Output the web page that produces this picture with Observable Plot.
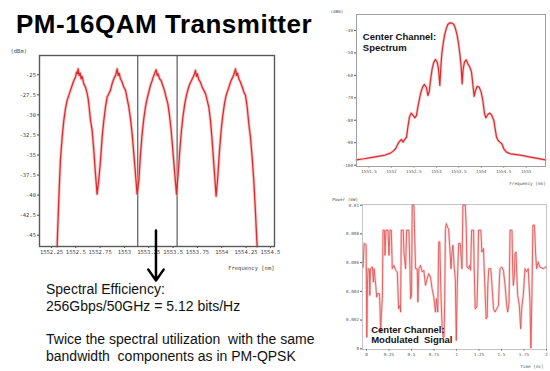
<!DOCTYPE html>
<html><head><meta charset="utf-8">
<script src="https://cdn.jsdelivr.net/npm/d3@7"></script>
<script src="https://cdn.jsdelivr.net/npm/@observablehq/plot@0.6"></script>
<style>
html,body{margin:0;padding:0;background:#fff;}
#page{position:relative;width:550px;height:371px;overflow:hidden;background:#fff;font-family:"Liberation Sans",Arial,sans-serif;}
#title{position:absolute;left:16px;top:11px;font-size:26px;font-weight:bold;letter-spacing:0.5px;line-height:26px;white-space:nowrap;color:#000;}
#notes{position:absolute;left:46px;top:281px;font-size:14px;line-height:16.8px;white-space:pre;color:#111;}
.chart{position:absolute;}
.chart svg text{white-space:pre;}
</style></head>
<body><div id="page">
<div id="title"></div>
<div class="chart" id="left" style="left:0;top:40px"></div>
<div class="chart" id="spec" style="left:330px;top:0"></div>
<div class="chart" id="sig" style="left:330px;top:185px"></div>
<div id="notes"></div>
</div>
<script>
// ---------- text ----------
const titleText = "PM-16QAM Transmitter";
const noteLines = ["Spectral Efficiency:", "256Gbps/50GHz = 5.12 bits/Hz", "", "Twice the spectral utilization  with the same", "bandwidth  components as in PM-QPSK"];

// ---------- left chart: 5-channel spectrum ----------
const leftWavelength = [1552.308,1552.315,1552.329,1552.342,1552.360,1552.377,1552.394,1552.411,1552.428,1552.445,1552.462,1552.480,1552.497,1552.507,1552.517,1552.524,1552.534,1552.545,1552.555,1552.565,1552.582,1552.599,1552.617,1552.627,1552.637,1552.651,1552.668,1552.685,1552.702,1552.719,
1552.736,1552.754,1552.771,1552.788,1552.805,1552.822,1552.839,1552.856,1552.873,1552.891,1552.908,1552.918,1552.925,1552.935,1552.945,1552.959,1552.976,1552.993,1553.011,1553.028,1553.045,1553.062,1553.079,1553.096,1553.113,1553.130,
1553.148,1553.165,1553.182,1553.199,1553.216,1553.233,1553.250,1553.267,1553.285,1553.302,1553.315,1553.326,1553.336,1553.346,1553.360,1553.377,1553.394,1553.411,1553.428,1553.446,1553.463,1553.480,1553.497,1553.514,1553.535,
1553.552,1553.569,1553.586,1553.603,1553.620,1553.637,1553.655,1553.672,1553.689,1553.706,1553.720,1553.730,1553.740,1553.750,1553.764,1553.781,1553.798,1553.816,1553.833,1553.850,1553.867,1553.884,1553.901,1553.918,1553.942,
1553.959,1553.977,1553.994,1554.011,1554.028,1554.045,1554.062,1554.079,1554.096,1554.114,1554.127,1554.141,1554.151,1554.162,1554.175,1554.192,1554.210,1554.227,1554.244,1554.261,1554.278,1554.295,1554.312,1554.329,1554.347,1554.360,1554.364];
const leftPower = [-46.4,-43.95,-39.39,-35.66,-32.76,-30.68,-29.23,-28.2,-27.57,-26.95,-26.33,-25.71,-25.29,-24.67,-24.88,-24.26,-25.08,-24.8,-25.5,-25.2,-26.12,-26.53,-27.36,-27.98,-29.02,-30.68,-31.92,-34.41,-37.31,-39.88,
-38.14,-35.66,-32.76,-30.68,-29.02,-27.78,-27.36,-26.95,-26.12,-25.5,-25.08,-24.67,-24.26,-25.08,-24.8,-25.5,-25.91,-26.53,-26.95,-27.98,-29.02,-30.47,-32.34,-34.83,-37.31,-39.88,
-38.14,-34.83,-32.34,-30.47,-29.02,-27.98,-27.15,-26.33,-25.71,-25.08,-24.67,-24.38,-25.08,-24.88,-25.5,-25.71,-26.33,-26.95,-27.78,-28.6,-30.05,-31.92,-34.41,-36.9,-39.88,
-37.31,-34.41,-31.92,-30.05,-28.6,-27.57,-26.74,-26.12,-25.71,-25.29,-24.88,-24.46,-25.2,-24.88,-25.62,-25.91,-26.53,-26.95,-27.36,-28.2,-29.02,-30.68,-33.17,-36.07,-40.13,
-37.73,-34.41,-31.92,-30.05,-28.6,-27.57,-26.95,-26.33,-25.71,-25.29,-24.88,-24.26,-25.08,-24.8,-25.5,-25.91,-26.53,-27.15,-27.57,-29.02,-31.1,-32.76,-35.24,-38.14,-42.29,-45.6,-46.4];
const leftDividers = [1553.137, 1553.541];
const leftXTicks = [1552.25,1552.5,1552.75,1553,1553.25,1553.5,1553.75,1554,1554.25,1554.5];
const leftYTicks = [-25,-27.5,-30,-32.5,-35,-37.5,-40,-42.5,-45];
const arrowWavelength = [1553.324];
const arrowPowerStart = [-44.41];
const arrowPowerEnd = [-50.64];
const leftYLabel = "(dBm)";
const leftXLabel = "Frequency [nm]";

// ---------- right top: center channel spectrum ----------
const specWavelength = [1551.222,1551.385,1551.608,1551.831,1551.979,1552.039,1552.091,1552.128,1552.165,1552.202,1552.224,1552.261,1552.291,1552.336,1552.365,1552.402,1552.439,1552.484,1552.521,1552.558,1552.588,1552.618,1552.647,1552.692,1552.736,1552.781,1552.811,1552.840,1552.870,1552.907,1552.944,1552.981,1553.018,1553.048,1553.078,1553.100,1553.122,1553.152,1553.182,1553.219,1553.256,1553.301,1553.345,1553.390,1553.427,1553.464,1553.494,1553.523,1553.553,1553.575,1553.598,1553.627,1553.664,1553.701,1553.746,1553.783,1553.820,1553.842,1553.872,1553.909,1553.954,1553.998,1554.035,1554.073,1554.102,1554.147,1554.191,1554.236,1554.280,1554.310,1554.340,1554.377,1554.414,1554.459,1554.503,1554.563,1554.652,1554.874,1555.097,1555.431];
const specPower = [-97.61,-97.16,-96.42,-95.68,-94.64,-93.75,-92.71,-91.22,-89.74,-89.0,-88.55,-89.74,-88.7,-87.51,-83.06,-78.6,-76.82,-77.86,-78.9,-77.86,-74.15,-71.18,-68.21,-65.24,-64.05,-65.54,-68.95,-67.47,-62.27,-57.07,-54.11,-52.92,-54.11,-57.07,-64.5,-56.33,-50.39,-45.94,-42.23,-39.26,-37.33,-36.59,-36.73,-37.33,-39.26,-42.23,-45.94,-50.39,-56.33,-63.76,-57.07,-54.11,-53.07,-54.85,-56.33,-58.56,-65.24,-69.4,-66.73,-64.94,-65.24,-67.47,-71.18,-77.12,-78.9,-77.42,-76.82,-77.86,-80.09,-83.8,-87.51,-89.0,-89.74,-90.48,-92.71,-94.19,-94.94,-95.53,-96.42,-97.61];
const specXTicks = [1551.5,1552,1552.5,1553,1553.5,1554,1554.5,1555];
const specYTicks = [-40,-50,-60,-70,-80,-90,-100];
const specYLabel = "(dBm)";
const specXLabel = "Frequency [nm]";
const specNote = "Center Channel:\nSpectrum";

// ---------- right bottom: modulated signal ----------
const sigTime = [-0.037,-0.026,-0.004,0.004,0.011,0.018,0.033,0.037,0.044,0.066,0.077,0.085,0.103,0.114,0.122,0.144,0.151,0.158,0.166,0.177,0.184,0.199,0.206,0.217,0.239,0.250,0.262,0.276,0.287,0.306,0.324,0.343,0.357,0.372,0.379,0.387,0.409,0.416,0.435,0.446,0.471,0.483,0.490,0.501,0.508,0.527,0.534,0.545,0.564,0.571,0.582,0.600,0.619,0.637,0.656,0.674,0.692,0.711,0.729,0.748,0.766,0.777,0.792,0.803,0.814,0.829,0.840,0.851,0.862,0.869,0.877,0.888,0.902,0.913,0.924,0.939,0.950,0.961,0.976,0.987,0.998,1.009,1.024,1.042,1.061,1.072,1.098,1.109,1.116,1.134,1.145,1.157,1.168,1.190,1.197,1.208,1.227,1.238,1.245,1.271,1.282,1.300,1.308,1.319,1.330,1.341,1.348,1.359,1.381,1.392,1.403,1.411,1.429,1.448,1.466,1.477,1.484,1.503,1.521,1.540,1.558,1.569,1.584,1.595,1.617,1.624,1.632,1.643,1.650,1.661,1.669,1.680,1.698,1.713,1.724,1.742,1.761,1.779,1.797,1.816,1.827,1.838,1.849,1.867,1.878,1.890,1.908,1.926,1.963,1.993];
const sigPower = [0.0057,0.00733,0.00726,0.00081,0.00442,0.00558,0.00553,0.00372,0.00558,0.0057,0.00465,0.00558,0.00442,0.0036,0.00384,0.00384,0.00279,0.00116,0.00244,0.0036,0.00826,0.00826,0.00651,0.00826,0.00826,0.00651,0.00826,0.00826,0.00558,0.00581,0.00547,0.00535,0.00279,0.00302,0.00256,0.00826,0.00826,0.00674,0.00558,0.00826,0.00826,0.00558,0.00349,0.00372,0.01,0.01,0.00837,0.00558,0.00558,0.00326,0.00558,0.00581,0.00535,0.00547,0.00442,0.00488,0.00523,0.005,0.00419,0.0036,0.00256,0.00349,0.00256,0.00744,0.00744,0.00349,0.00163,0.00081,0.00081,0.00326,0.00837,0.00872,0.00842,0.00837,0.00721,0.00558,0.00674,0.00721,0.00558,0.00488,0.00058,0.00442,0.00733,0.00733,0.00558,0.01,0.01,0.00837,0.0057,0.00558,0.00581,0.00547,0.00826,0.00826,0.00558,0.00279,0.00291,0.00558,0.00826,0.00826,0.00674,0.00698,0.00558,0.00372,0.00209,0.00221,0.00442,0.00558,0.00558,0.00465,0.0036,0.00279,0.00256,0.00279,0.00302,0.00488,0.00558,0.0057,0.00547,0.00442,0.00302,0.00256,0.00326,0.00826,0.00826,0.00558,0.00442,0.00512,0.00663,0.00674,0.00535,0.00372,0.00302,0.0014,0.00279,0.00372,0.00558,0.00535,0.00558,0.00326,0.00005,0.00372,0.0086,0.0086,0.00674,0.00558,0.00605,0.0057,0.00558,0.0057];
const sigXTicks = [0,0.25,0.5,0.75,1,1.25,1.5,1.75,2];
const sigYTicks = [0,0.002,0.004,0.006,0.008,0.01];
const sigYLabel = "Power (mW)";
const sigXLabel = "Time [ns]";
const sigNote = "Center Channel:\nModulated  Signal";

// ---------- render ----------
document.getElementById("title").textContent = titleText;
document.getElementById("notes").textContent = noteLines.join("\n");

const tickFont = "DejaVu Sans Mono";
const noteFont = "Liberation Sans";

const leftPlot = Plot.plot({
  width: 290, height: 245,
  marginLeft: 39, marginRight: 16, marginTop: 15, marginBottom: 39,
  x: {domain: [1552.127, 1554.542]},
  y: {domain: [-46.4, -22.6]},
  style: {fontFamily: tickFont, fontSize: "5.5px", color: "#444", background: "transparent", overflow: "visible"},
  marks: [
    Plot.axisX(leftXTicks, {tickSize: 2, tickPadding: 1.5, label: null, tickFormat: d => String(+d.toFixed(2))}),
    Plot.axisY(leftYTicks, {tickSize: 2, tickPadding: 1.5, label: null, tickFormat: d => String(d)}),
    Plot.ruleX(leftDividers, {stroke: "#3a3a3a", strokeWidth: 1}),
    Plot.line(leftWavelength, {x: leftWavelength, y: leftPower, stroke: "#f2a8a8", strokeWidth: 3.2, strokeOpacity: 0.6}),
    Plot.line(leftWavelength, {x: leftWavelength, y: leftPower, stroke: "#e0292b", strokeWidth: 1.3}),
    Plot.frame({stroke: "#5a5a5a", strokeWidth: 1.4}),
    Plot.arrow([0], {x1: arrowWavelength, y1: arrowPowerStart, x2: arrowWavelength, y2: arrowPowerEnd, stroke: "#000", strokeWidth: 2.5, headLength: 8, headAngle: 70}),
    Plot.text([leftYLabel], {text: d => d, frameAnchor: "top-left", dx: -29, dy: -6, textAnchor: "start", fill: "#444"}),
    Plot.text([leftXLabel], {text: d => d, frameAnchor: "bottom-right", dx: 0, dy: 23, textAnchor: "end", fill: "#444"})
  ]
});
document.getElementById("left").appendChild(leftPlot);

const specPlot = Plot.plot({
  width: 220, height: 190,
  marginLeft: 26, marginRight: 5, marginTop: 14, marginBottom: 24,
  x: {domain: [1551.222, 1555.431]},
  y: {domain: [-100.6, -32.9]},
  style: {fontFamily: tickFont, fontSize: "4.3px", color: "#555", background: "transparent", overflow: "visible"},
  marks: [
    Plot.axisX(specXTicks, {tickSize: 1.5, tickPadding: 1.5, label: null, tickFormat: d => String(d)}),
    Plot.axisY(specYTicks, {tickSize: 2, tickPadding: 1.5, label: null, tickFormat: d => String(d)}),
    Plot.line(specWavelength, {x: specWavelength, y: specPower, stroke: "#f2a8a8", strokeWidth: 2.8, strokeOpacity: 0.6}),
    Plot.line(specWavelength, {x: specWavelength, y: specPower, stroke: "#e0292b", strokeWidth: 1.2}),
    Plot.frame({stroke: "#a0a0a0", strokeWidth: 1}),
    Plot.text([specYLabel], {text: d => d, frameAnchor: "top-left", dx: -26, dy: -5, textAnchor: "start", fill: "#555"}),
    Plot.text([specXLabel], {text: d => d, frameAnchor: "bottom-right", dx: 0, dy: 18, textAnchor: "end", fill: "#555"}),
    Plot.text([specNote], {text: d => d, frameAnchor: "top-left", dx: 6.3, dy: 18.2, lineAnchor: "top", lineHeight: 1.12, textAnchor: "start", fill: "#111", fontFamily: noteFont, fontWeight: "bold", fontSize: 9.5})
  ]
});
document.getElementById("spec").appendChild(specPlot);

const sigPlot = Plot.plot({
  width: 220, height: 186,
  marginLeft: 32, marginRight: 4, marginTop: 19, marginBottom: 22,
  x: {domain: [-0.044, 2.0]},
  y: {domain: [-0.00005, 0.01005]},
  style: {fontFamily: tickFont, fontSize: "4.3px", color: "#555", background: "transparent", overflow: "visible"},
  marks: [
    Plot.axisX(sigXTicks, {tickSize: 1.5, tickPadding: 1.5, label: null, tickFormat: d => String(d)}),
    Plot.axisY(sigYTicks, {tickSize: 2, tickPadding: 1.5, label: null, tickFormat: d => String(+d.toFixed(3))}),
    Plot.line(sigTime, {x: sigTime, y: sigPower, stroke: "#f4b4b4", strokeWidth: 2.4, strokeOpacity: 0.6}),
    Plot.line(sigTime, {x: sigTime, y: sigPower, stroke: "#e25050", strokeWidth: 1, strokeOpacity: 0.85}),
    Plot.frame({stroke: "#8a8a8a", strokeWidth: 1, strokeDasharray: "1,1"}),
    Plot.text([sigYLabel], {text: d => d, frameAnchor: "top-left", dx: -30.3, dy: -6.3, textAnchor: "start", fill: "#555"}),
    Plot.text([sigXLabel], {text: d => d, frameAnchor: "bottom-right", dx: -3, dy: 18.7, textAnchor: "end", fill: "#555"}),
    Plot.text([sigNote], {text: d => d, frameAnchor: "top-left", dx: 8.7, dy: 121, lineAnchor: "top", lineHeight: 1.06, textAnchor: "start", fill: "#111", fontFamily: noteFont, fontWeight: "bold", fontSize: 9.5})
  ]
});
document.getElementById("sig").appendChild(sigPlot);
</script>
</body></html>
